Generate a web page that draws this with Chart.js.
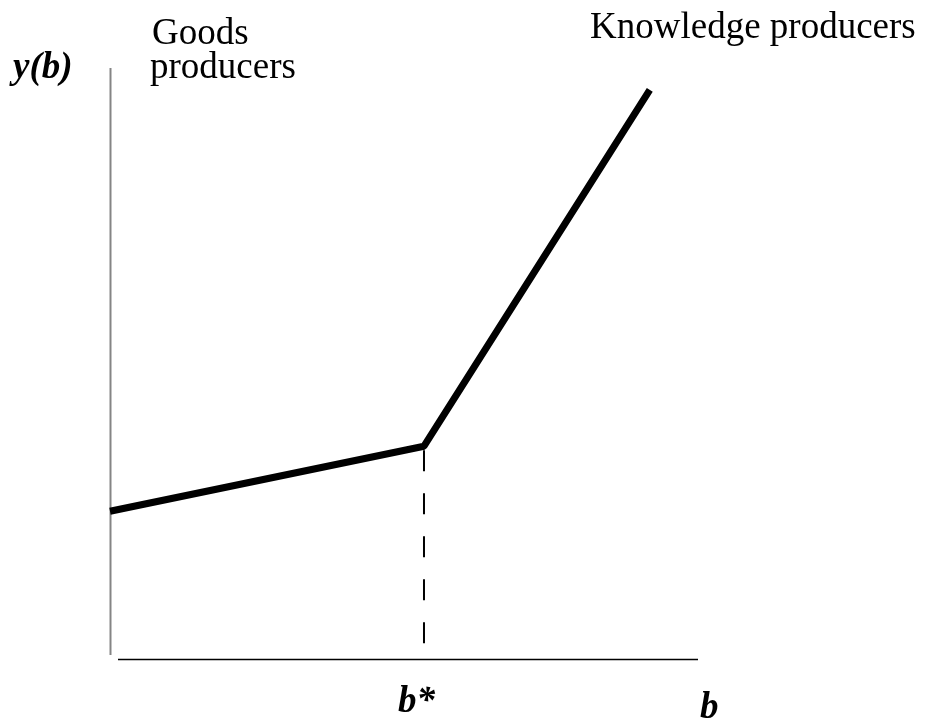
<!DOCTYPE html>
<html>
<head>
<meta charset="utf-8">
<script src="https://cdn.jsdelivr.net/npm/chart.js@4/dist/chart.umd.min.js"></script>
<style>
  html, body { margin: 0; padding: 0; background: #ffffff; }
  #wrap { width: 934px; height: 725px; position: relative; }
</style>
</head>
<body>
<div id="wrap"><canvas id="c" width="934" height="725"></canvas></div>
<script>
// ---- data ----
const bValues = [0, 53.4, 91.8];      // skill level b
const yValues = [25, 36, 96.3];       // income y(b)
const bStar = 53.4;                   // threshold b*
const yAtBStar = 36;
const dashB = [bStar, bStar];
const dashY = [yAtBStar, 0];
const xRange = [0, 100];
const yRange = [0, 100];
const yAxisLabel = 'y(b)';
const xAxisLabel = 'b';
const thresholdLabel = 'b*';
const leftGroupLabel = ['Goods', 'producers'];
const rightGroupLabel = 'Knowledge producers';

const mainPoints = bValues.map((b, i) => ({ x: b, y: yValues[i] }));
const dashPoints = dashB.map((b, i) => ({ x: b, y: dashY[i] }));

const serif = '"Liberation Serif", "DejaVu Serif", serif';

const overlay = {
  id: 'overlay',
  beforeDatasetsDraw(chart) {
    const ctx = chart.ctx;
    const xs = chart.scales.x, ys = chart.scales.y;
    const L = xs.getPixelForValue(xRange[0]);
    const R = xs.getPixelForValue(xRange[1]);
    const T = ys.getPixelForValue(yRange[1]);
    const B = ys.getPixelForValue(yRange[0]);
    ctx.save();
    // y axis (gray)
    ctx.strokeStyle = '#858585';
    ctx.lineWidth = 2;
    ctx.beginPath();
    ctx.moveTo(L + 0.5, T);
    ctx.lineTo(L + 0.5, B - 4);
    ctx.stroke();
    // x axis (black)
    ctx.strokeStyle = '#000000';
    ctx.lineWidth = 1.5;
    ctx.beginPath();
    ctx.moveTo(L + 8, B + 0.5);
    ctx.lineTo(R, B + 0.5);
    ctx.stroke();
    ctx.restore();
  },
  afterDraw(chart) {
    const ctx = chart.ctx;
    const xs = chart.scales.x, ys = chart.scales.y;
    const L = xs.getPixelForValue(xRange[0]);
    const R = xs.getPixelForValue(xRange[1]);
    const B = ys.getPixelForValue(yRange[0]);
    const T = ys.getPixelForValue(yRange[1]);
    ctx.save();
    ctx.fillStyle = '#000000';
    ctx.textBaseline = 'alphabetic';
    ctx.textAlign = 'left';
    ctx.font = '37px ' + serif;
    ctx.fillText(leftGroupLabel[0], L + 42, 44);
    ctx.fillText(leftGroupLabel[1], L + 40, 78);
    ctx.fillText(rightGroupLabel, 590, 38);
    ctx.font = 'italic bold 37px ' + serif;
    ctx.fillText(yAxisLabel, 13, 78);
    ctx.fillText(thresholdLabel, xs.getPixelForValue(bStar) - 26, B + 53);
    ctx.fillText(xAxisLabel, R + 2, B + 59);
    ctx.restore();
  }
};

new Chart(document.getElementById('c'), {
  type: 'scatter',
  data: {
    datasets: [
      {
        data: dashPoints,
        showLine: true,
        borderColor: '#000000',
        borderWidth: 2,
        borderDash: [21, 22],
        borderDashOffset: 39,
        pointRadius: 0,
        fill: false
      },
      {
        data: mainPoints,
        showLine: true,
        borderColor: '#000000',
        borderWidth: 7,
        borderCapStyle: 'butt',
        borderJoinStyle: 'bevel',
        pointRadius: 0,
        fill: false,
        tension: 0
      }
    ]
  },
  plugins: [overlay],
  options: {
    responsive: false,
    animation: false,
    layout: { padding: { left: 110, right: 236, top: 68, bottom: 66 } },
    plugins: { legend: { display: false }, tooltip: { enabled: false } },
    scales: {
      x: { type: 'linear', min: xRange[0], max: xRange[1], display: false },
      y: { type: 'linear', min: yRange[0], max: yRange[1], display: false }
    },
    clip: false
  }
});
</script>
</body>
</html>
